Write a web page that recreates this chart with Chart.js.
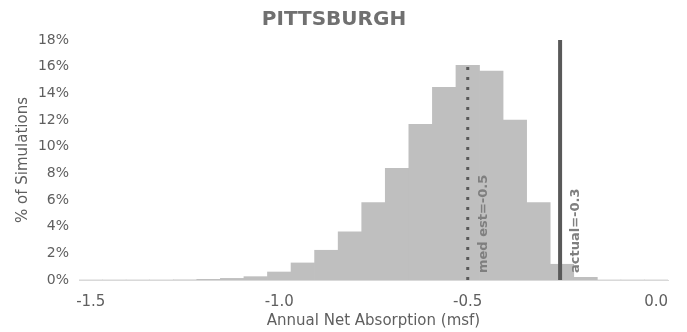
<!DOCTYPE html>
<html>
<head>
<meta charset="utf-8">
<script src="https://cdn.jsdelivr.net/npm/chart.js@4.4.1/dist/chart.umd.min.js"></script>
<style>
    html, body { margin: 0; padding: 0; background: #fff; }
    #wrap { width: 687px; height: 332px; position: relative; }
</style>
</head>
<body>
<div id="wrap"><canvas id="histChart"></canvas></div>
<script>
const binCenters = [-1.5, -1.4375, -1.375, -1.3125, -1.25, -1.1875, -1.125, -1.0625, -1.0,
    -0.9375, -0.875, -0.8125, -0.75, -0.6875, -0.625, -0.5625, -0.5, -0.4375, -0.375,
    -0.3125, -0.25, -0.1875, -0.125, -0.0625, 0.0];
const pctSims = [0, 0, 0, 0, 0.01, 0.05, 0.12, 0.25, 0.6, 1.28, 2.23, 3.62, 5.8, 8.38,
    11.68, 14.45, 16.1, 15.67, 12.0, 5.8, 1.18, 0.2, 0, 0, 0];
const xTickValues = [-1.5, -1.0, -0.5, 0.0];
const medEst = -0.5;
const medLabel = "med est=-0.5";
const actual = -0.255;
const actualLabel = "actual=-0.3";

const FONT = "'DejaVu Sans', sans-serif";

const lineLabels = {
    id: "lineLabels",
    afterDatasetsDraw(chart) {
        const { ctx, scales } = chart;
        const y0 = scales.y.getPixelForValue(0);
        const items = [
            [medEst, medLabel],
            [actual, actualLabel],
        ];
        ctx.save();
        ctx.fillStyle = "#7f7f7f";
        ctx.font = "bold 13px " + FONT;
        ctx.textAlign = "left";
        ctx.textBaseline = "middle";
        items.forEach(([v, txt]) => {
            const x = scales.x.getPixelForValue(v) + 16;
            ctx.save();
            ctx.translate(x, y0 - 7);
            ctx.rotate(-Math.PI / 2);
            ctx.fillText(txt, 0, 0);
            ctx.restore();
        });
        ctx.restore();
    },
};

const ctx = document.getElementById("histChart").getContext("2d");

new Chart(ctx, {
    type: "bar",
    data: {
        datasets: [
            {
                type: "bar",
                data: binCenters.map((x, i) => ({ x: x, y: pctSims[i] })),
                backgroundColor: "#bfbfbf",
                borderWidth: 0,
                barPercentage: 1,
                categoryPercentage: 1,
                order: 3,
            },
            {
                type: "line",
                data: [{ x: medEst, y: 0 }, { x: medEst, y: Math.max(...pctSims) }],
                borderColor: "#595959",
                borderWidth: 3,
                borderDash: [3, 7],
                pointRadius: 0,
                order: 1,
            },
            {
                type: "line",
                data: [{ x: actual, y: 0 }, { x: actual, y: 18 }],
                borderColor: "#595959",
                borderWidth: 4,
                pointRadius: 0,
                order: 1,
            },
        ],
    },
    options: {
        responsive: true,
        maintainAspectRatio: false,
        animation: false,
        layout: { padding: { left: 0, right: 19, top: 0, bottom: 0 } },
        scales: {
            x: {
                type: "linear",
                min: -1.53125,
                max: 0.03125,
                offset: false,
                afterBuildTicks: (scale) => {
                    scale.ticks = xTickValues.map((v) => ({ value: v }));
                },
                afterFit: (scale) => {
                    scale.height = 52;
                },
                grid: { display: false, drawTicks: false },
                border: { display: true, color: "#d9d9d9", width: 1 },
                ticks: {
                    color: "#5f5f5f",
                    font: { family: FONT, size: 15 },
                    padding: 13,
                    maxRotation: 0,
                    callback: (v) => Number(v).toFixed(1),
                },
                title: {
                    display: true,
                    text: "Annual Net Absorption (msf)",
                    color: "#5f5f5f",
                    font: { family: FONT, size: 15 },
                    padding: { top: 0, bottom: 2 },
                },
            },
            y: {
                min: 0,
                max: 18,
                afterFit: (scale) => {
                    scale.width = 79;
                },
                grid: { display: false, drawTicks: false },
                border: { display: false },
                ticks: {
                    stepSize: 2,
                    color: "#5f5f5f",
                    font: { family: FONT, size: 14 },
                    padding: 10,
                    callback: (v) => v + "%",
                },
                title: {
                    display: true,
                    text: "% of Simulations",
                    color: "#5f5f5f",
                    font: { family: FONT, size: 15 },
                    padding: { top: 14, bottom: 0 },
                },
            },
        },
        plugins: {
            legend: { display: false },
            tooltip: { enabled: false },
            title: {
                display: true,
                text: "PITTSBURGH",
                color: "#707070",
                font: { family: FONT, size: 20, weight: "bold" },
                padding: { top: 8, bottom: 8 },
            },
        },
    },
    plugins: [lineLabels],
});
</script>
</body>
</html>
